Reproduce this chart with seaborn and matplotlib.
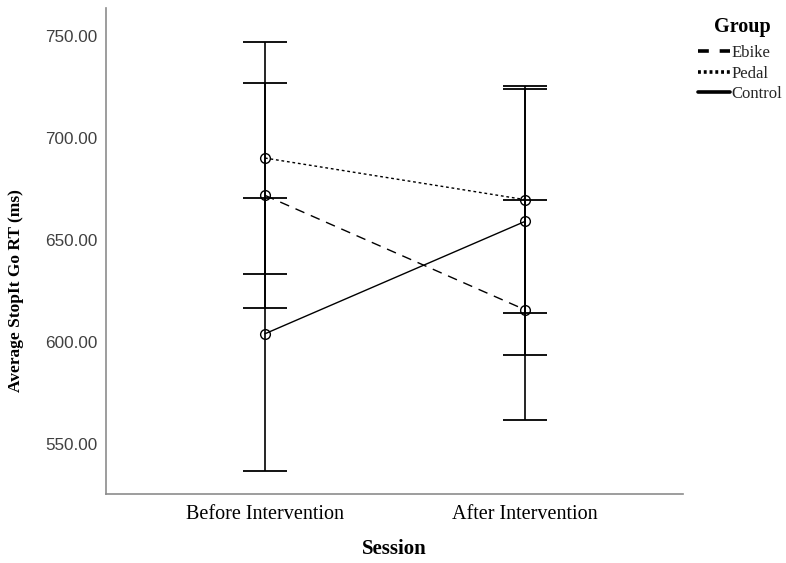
import matplotlib
matplotlib.use("Agg")
import matplotlib.pyplot as plt
from matplotlib.lines import Line2D
import seaborn as sns
import pandas as pd
import numpy as np

sessions = ["Before Intervention", "After Intervention"]
groups = ["Ebike", "Pedal", "Control"]
mean_ebike = [671.9, 615.8]
mean_pedal = [690.2, 669.8]
mean_control = [604.0, 659.1]
low_ebike = [616.5, 561.7]
high_ebike = [727.1, 669.8]
low_pedal = [633.4, 614.4]
high_pedal = [746.9, 725.4]
low_control = [536.8, 593.7]
high_control = [670.6, 724.3]

means = {"Ebike": mean_ebike, "Pedal": mean_pedal, "Control": mean_control}
lows = {"Ebike": low_ebike, "Pedal": low_pedal, "Control": low_control}
highs = {"Ebike": high_ebike, "Pedal": high_pedal, "Control": high_control}

rows = []
for g in groups:
    for i, s in enumerate(sessions):
        rows.append({"Session": s, "Group": g, "RT": means[g][i],
                     "lo": lows[g][i], "hi": highs[g][i]})
df = pd.DataFrame(rows)

sns.set_theme(style="white")
plt.rcParams["font.family"] = ["Liberation Serif", "DejaVu Sans"]

fig = plt.figure(figsize=(7.86, 5.63), dpi=100)
ax = fig.add_axes([106/786, 1-494/563, (683-106)/786, (494-8)/563])

dash_map = {"Ebike": (7, 5), "Pedal": (2, 2), "Control": ""}
sns.lineplot(data=df, x="Session", y="RT", style="Group", style_order=groups,
             dashes=dash_map, markers={"Ebike": "o", "Pedal": "o", "Control": "o"},
             color="black", linewidth=1.0, markersize=7, markerfacecolor="none",
             markeredgecolor="black", markeredgewidth=1.0, ax=ax, legend=False,
             sort=False, errorbar=None)

xpos = {s: i for i, s in enumerate(sessions)}
for g in groups:
    sub = df[df["Group"] == g]
    x = sub["Session"].map(xpos).to_numpy()
    y = sub["RT"].to_numpy()
    yerr = np.vstack([y - sub["lo"].to_numpy(), sub["hi"].to_numpy() - y])
    ax.errorbar(x, y, yerr=yerr, fmt="none", ecolor="black", elinewidth=1.2,
                capsize=15.5, capthick=1.3, zorder=1)

ax.set_xlim(-0.6115, 1.608)
ax.set_ylim(525.4, 763.8)
ax.set_yticks([550, 600, 650, 700, 750])
ax.set_yticklabels([f"{v:.2f}" for v in [550, 600, 650, 700, 750]],
                   fontfamily="Liberation Sans", fontsize=12.3, color="#404040")
ax.set_xticks([0, 1])
ax.set_xticklabels(sessions, fontsize=14.5, color="black")
ax.tick_params(axis="both", length=0, pad=6)
ax.tick_params(axis="x", pad=8)

for side in ["top", "right"]:
    ax.spines[side].set_visible(False)
for side in ["left", "bottom"]:
    ax.spines[side].set_color("#8c8c8c")
    ax.spines[side].set_linewidth(1.2)

ax.set_xlabel("Session", fontsize=15, fontweight="bold", color="black")
ax.xaxis.set_label_coords(0.5, -0.113)
ax.xaxis.label.set_va("center")
ax.set_ylabel("Average StopIt Go RT (ms)", fontsize=12.5, fontweight="bold", color="black")
ax.yaxis.set_label_coords(-0.142, 0.418)

fig.text(742/786, 1-27/563, "Group", fontsize=14.5, fontweight="bold",
         ha="center", va="center", color="black")
handles = [Line2D([], [], color="black", lw=2.6, dashes=(3, 3)),
           Line2D([], [], color="black", lw=2.6, dashes=(0.8, 0.8)),
           Line2D([], [], color="black", lw=2.6)]
leg = fig.legend(handles, groups, loc="upper left",
                 bbox_to_anchor=(698/786, 1-45/563), frameon=False,
                 fontsize=12, handlelength=1.9, handletextpad=0.1,
                 labelspacing=0.28, borderaxespad=0, borderpad=0)

fig.savefig("out.png", dpi=100)
